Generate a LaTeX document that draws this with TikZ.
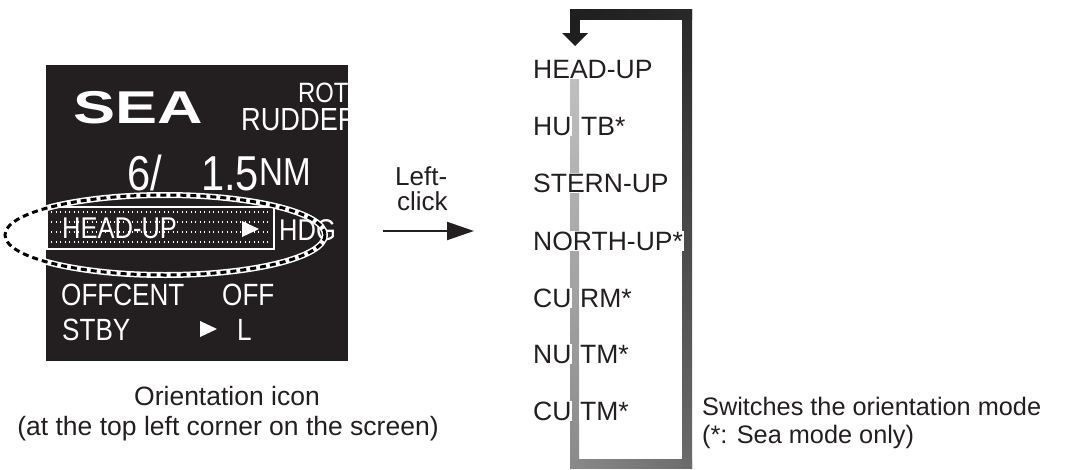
\documentclass[tikz,border=0pt]{standalone}
\usepackage{fontspec}
\setmainfont{Liberation Sans}
\newfontfamily\condfont[FakeStretch=0.85]{Liberation Sans}
\newfontfamily\seafont[FakeStretch=1.37]{Liberation Sans Bold}
\usetikzlibrary{arrows.meta}
\definecolor{ink}{HTML}{231F20}
\definecolor{txt}{HTML}{231F20}
\newcommand{\fs}[1]{\fontsize{#1}{#1}\selectfont}
\tikzset{
  scrtext/.style={anchor=base west, inner sep=0pt, text=white, font=\condfont\fs{30.7}},
  listitem/.style={anchor=base west, inner sep=1pt, fill=white, text=txt, font=\fs{26.5}},
  captxt/.style={inner sep=0pt, text=txt, font=\fs{26.5}},
}
\begin{document}
\begin{tikzpicture}[x=1pt,y=-1pt]
\useasboundingbox (0,0) rectangle (1066,469);
% ---------- screen box ----------
\fill[ink] (46,65) rectangle (348,361);
\begin{scope}
\clip (46,65) rectangle (348,361);
\node[anchor=base west, inner sep=0pt, text=white, font=\seafont\fs{46}] (sea) at (73,123) {SEA};
\node[scrtext, font=\condfont\fs{28}] (rot) at (298,102) {ROT};
\node[scrtext, font=\condfont\fs{32}] (rud) at (241,130) {RUDDER};
\node[scrtext, font=\condfont\fs{49}] (six) at (127,190) {6/};
\node[scrtext, font=\condfont\fs{49}] (rng) at (201,190) {1.5};
\node[scrtext, font=\condfont\fs{39}] (nm) at (259,185) {NM};
% head-up box
\draw[white, line width=1.5] (47,207) rectangle (274,249);
\foreach \yy in {212,222,232,242}
  \draw[white, line width=1.3, dash pattern=on 1.3 off 3.2] (51,\yy) -- (271,\yy);
\node[scrtext, font=\condfont\fs{30}] (hu) at (62,238) {HEAD-UP};
\fill[white] (242,221) -- (242,237) -- (259,229) -- cycle;
\node[scrtext, font=\condfont\fs{30}] (hdg) at (279,240) {HDG};
\node[scrtext] (offc) at (61,305) {OFFCENT};
\node[scrtext] (off) at (222,305) {OFF};
\node[scrtext] (stby) at (62,340) {STBY};
\fill[white] (200,321) -- (200,337) -- (217,329) -- cycle;
\node[scrtext] (ell) at (237,340) {L};
\end{scope}
% dashed ellipse
\draw[white, line width=6] (165,235) ellipse [x radius=160, y radius=40];
\draw[black, line width=3, dash pattern=on 6 off 4] (165,235) ellipse [x radius=160, y radius=40];
% caption
\node[captxt, anchor=base] (cap1) at (227,405) {Orientation icon};
\node[captxt, anchor=base] (cap2) at (228,435) {(at the top left corner on the screen)};
% ---------- left-click arrow ----------
\node[captxt, anchor=base west, font=\fs{26}] (lc1) at (395,185) {Left-};
\node[captxt, anchor=base west, font=\fs{26}] (lc2) at (397,210) {click};
\coordinate (la) at (383,231);
\coordinate (lb) at (474,231);
\draw[txt, line width=2, -{Triangle[length=27, width=18]}] (la) -- (lb);
% ---------- loop ----------
\shade[top color=black!25, bottom color=black!46] (570,77) rectangle (579,468);
\shade[left color=black!46, right color=black!58] (570,459) rectangle (692,468);
\shade[top color=black!84, bottom color=black!58] (682,9) rectangle (692,468);
\shade[left color=black!88, right color=black!84] (570,9) rectangle (692,19);
\fill[black!88] (570,9) rectangle (580,34);
\fill[black!88] (562,33) -- (588,33) -- (575,46) -- cycle;
% ---------- list ----------
\node[listitem] (m1) at (532,78) {HEAD-UP};
\node[listitem] (m2a) at (532,135) {HU};
\node[listitem] (m2b) at (580,135) {TB*};
\node[listitem] (m3) at (532,192) {STERN-UP};
\node[listitem] (m4) at (532,250) {NORTH-UP*};
\node[listitem] (m5a) at (532,307) {CU};
\node[listitem] (m5b) at (579,307) {RM*};
\node[listitem] (m6a) at (532,363) {NU};
\node[listitem] (m6b) at (579,363) {TM*};
\node[listitem] (m7a) at (532,420) {CU};
\node[listitem] (m7b) at (579,420) {TM*};
% note
\node[captxt, anchor=base west, font=\fs{25.3}] (n1) at (702,415) {Switches the orientation mode};
\node[captxt, anchor=base west, font=\fs{25.3}] (n2) at (702,443) {(*: Sea mode only)};
\end{tikzpicture}
\end{document}
